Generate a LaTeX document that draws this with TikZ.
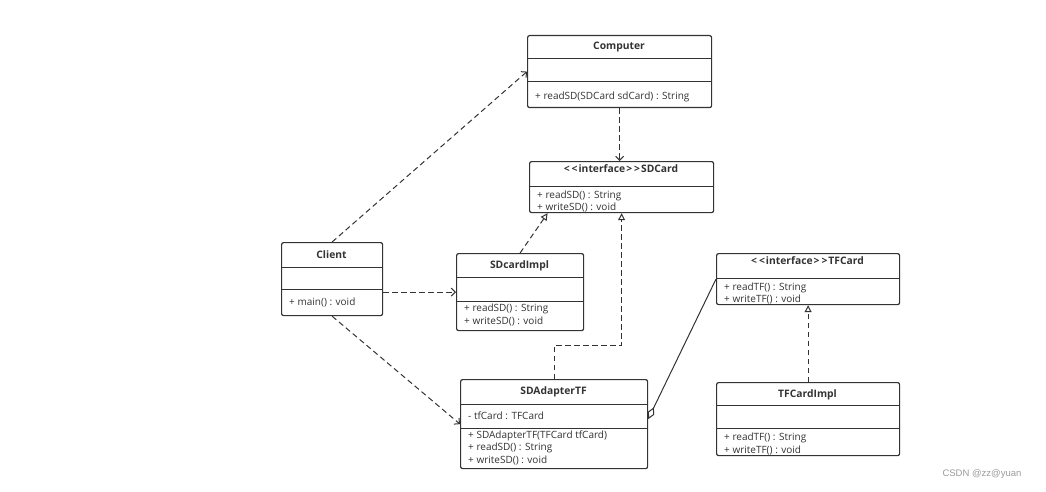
\documentclass[tikz,border=0pt]{standalone}
\usepackage{fontspec}
\setmainfont{Open Sans}
\newfontfamily\wmfont{Liberation Sans}
\usetikzlibrary{arrows.meta,calc}
\definecolor{ink}{HTML}{333333}
\definecolor{wm}{HTML}{9A9A9A}
\tikzset{
 classbox/.style={draw=ink, line width=1.2pt, rounded corners=2pt, inner sep=0pt, fill=white},
 sepline/.style={draw=ink, line width=1pt},
 titletext/.style={font=\fontsize{10.3}{12}\selectfont\bfseries, text=ink, inner sep=0pt},
 membertext/.style={font=\fontsize{10}{12.5}\selectfont, text=ink, inner sep=0pt, anchor=base west},
 dep/.style={draw=ink, line width=1pt, dash pattern=on 5.5pt off 3.5pt, -{Straight Barb[length=4pt,width=8pt]}},
 real/.style={draw=ink, line width=1pt, dash pattern=on 5.5pt off 3.5pt, -{Triangle[open, length=7pt, width=7pt]}},
 aggr/.style={draw=ink, line width=1pt, {Diamond[open, length=13pt, width=7pt]}-},
}
\newcommand{\stereo}{<\kern2pt<\kern1pt interface\kern1pt>\kern2pt>\kern1pt}
% name, left, top, right, bottom
\newcommand{\umlframe}[5]{%
  \node[classbox, minimum width={#4pt-#2pt}, minimum height={#5pt-#3pt}, anchor=north west] (#1) at (#2,#3) {};
}
\newcommand{\umlsep}[3]{\draw[sepline] (#1,#3) -- (#2,#3);}
\begin{document}
\begin{tikzpicture}[x=1pt,y=-1pt]
\useasboundingbox (0,0) rectangle (1046,492);

% Computer
\umlframe{computer}{527}{35}{711}{107}
\umlsep{527}{711}{59}\umlsep{527}{711}{82}
\node[titletext] (computer-t) at (619,47.5) {Computer};
\node[membertext] (computer-m1) at (535,99.5) {+ readSD(SDCard sdCard) : String};

% SDCard
\umlframe{sdcard}{529}{161}{713}{212}
\umlsep{529}{713}{186}
\node[titletext] (sdcard-t) at (621,168.5) {\stereo SDCard};
\node[membertext] (sdcard-m1) at (537,198) {+ readSD() : String};
\node[membertext] (sdcard-m2) at (537,210.5) {+ writeSD() : void};

% Client
\umlframe{client}{281}{242}{382}{315}
\umlsep{281}{382}{267}\umlsep{281}{382}{289}
\node[titletext] (client-t) at (331.5,255) {Client};
\node[membertext] (client-m1) at (289,305.5) {+ main() : void};

% SDcardImpl
\umlframe{sdimpl}{456}{253}{583}{330}
\umlsep{456}{583}{277}\umlsep{456}{583}{301}
\node[titletext] (sdimpl-t) at (519.5,266) {SDcardImpl};
\node[membertext] (sdimpl-m1) at (464,311.5) {+ readSD() : String};
\node[membertext] (sdimpl-m2) at (464,324) {+ writeSD() : void};

% SDAdapterTF
\umlframe{adapter}{460}{379}{647}{468}
\umlsep{460}{647}{404}\umlsep{460}{647}{428}
\node[titletext] (adapter-t) at (553.5,392) {SDAdapterTF};
\node[membertext] (adapter-a1) at (468,419.5) {- tfCard : TFCard};
\node[membertext] (adapter-m1) at (468,438) {+ SDAdapterTF(TFCard tfCard)};
\node[membertext] (adapter-m2) at (468,450.5) {+ readSD() : String};
\node[membertext] (adapter-m3) at (468,463) {+ writeSD() : void};

% TFCard
\umlframe{tfcard}{716}{253}{899}{304}
\umlsep{716}{899}{278}
\node[titletext] (tfcard-t) at (807.5,261) {\stereo TFCard};
\node[membertext] (tfcard-m1) at (724,290) {+ readTF() : String};
\node[membertext] (tfcard-m2) at (724,302.5) {+ writeTF() : void};

% TFCardImpl
\umlframe{tfimpl}{716}{382}{899}{455}
\umlsep{716}{899}{405}\umlsep{716}{899}{428}
\node[titletext] (tfimpl-t) at (807.5,395) {TFCardImpl};
\node[membertext] (tfimpl-m1) at (724,440.5) {+ readTF() : String};
\node[membertext] (tfimpl-m2) at (724,453) {+ writeTF() : void};

% connectors
\draw[dep] (client.north) -- (computer.west);
\draw[dep] (computer.south) -- (computer.south |- sdcard.north);
\draw[dep] (client.east |- sdimpl.west) -- (sdimpl.west);
\draw[dep] (client.south) -- (adapter.west);
\draw[real] (sdimpl.north) -- ([xshift=-74pt]sdcard.south);
\draw[real] (adapter.north) -- ++(0,-34) -| (sdcard.south);
\draw[real] (tfimpl.north) -- (tfcard.south);
\draw[aggr] ([yshift=5pt]adapter.east) -- (tfcard.west);

% watermark
\node[font=\wmfont\fontsize{9.5}{11}\selectfont, text=wm, inner sep=0pt] (watermark) at (982,474) {CSDN @zz@yuan};
\end{tikzpicture}
\end{document}
